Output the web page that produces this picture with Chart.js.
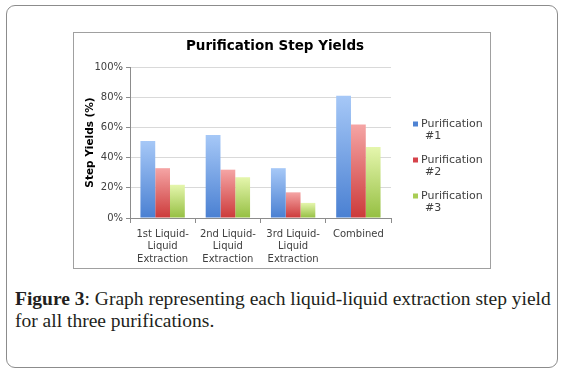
<!DOCTYPE html>
<html>
<head>
<meta charset="utf-8">
<script src="https://cdn.jsdelivr.net/npm/chart.js@4.4.1/dist/chart.umd.min.js"></script>
<style>
  html, body { margin: 0; padding: 0; background: #fff; }
  body { width: 565px; height: 376px; position: relative; overflow: hidden; }
  .frame {
    position: absolute; left: 6px; top: 5px; width: 550px; height: 361px;
    border: 1.5px solid #8c8c8c; border-radius: 9px;
  }
  .box {
    position: absolute; left: 73px; top: 32px; width: 416px; height: 235px;
    border: 1px solid #a0a0a0;
  }
  .box canvas { position: absolute; left: 0; top: 0; }
  .caption {
    position: absolute; left: 15px; top: 288px; width: 548px;
    font-family: "Liberation Serif", "DejaVu Serif", serif; font-size: 19.5px;
    line-height: 22px; color: #231f20; white-space: nowrap;
  }
  .caption b { font-weight: bold; }
</style>
</head>
<body>
<div class="frame"></div>
<div class="box"><canvas id="chartYields" width="416" height="235"></canvas></div>
<div class="caption"><b>Figure 3</b>: Graph representing each liquid-liquid extraction step yield<br>for all three purifications.</div>

<script>
// valores (%)
const categorias = [
  ['1st Liquid-', 'Liquid', 'Extraction'],
  ['2nd Liquid-', 'Liquid', 'Extraction'],
  ['3rd Liquid-', 'Liquid', 'Extraction'],
  'Combined'
];
const purificacao1 = [51, 55, 33, 81];
const purificacao2 = [33, 32, 17, 62];
const purificacao3 = [22, 27, 10, 47];
const nomesSeries = ['Purification #1', 'Purification #2', 'Purification #3'];
const ticksY = [0, 20, 40, 60, 80, 100];
const titulo = 'Purification Step Yields';

const FONTE = "'DejaVu Sans', sans-serif";

// gradiente vertical por barra (claro em cima, escuro embaixo)
function gradiente(topo, base) {
  return function(c) {
    const chart = c.chart;
    if (!chart.chartArea || !c.parsed) return base;
    const y = chart.scales.y;
    const y0 = y.getPixelForValue(0);
    const y1 = y.getPixelForValue(c.parsed.y);
    const g = chart.ctx.createLinearGradient(0, y1, 0, y0);
    g.addColorStop(0, topo);
    g.addColorStop(1, base);
    return g;
  };
}

const cores = [
  { topo: '#a6c8f7', base: '#4a80d2', legenda: '#4f83d3' },
  { topo: '#f5a5a5', base: '#cc3a3a', legenda: '#d6434a' },
  { topo: '#e5f6ad', base: '#95bf42', legenda: '#a9cd55' }
];

// título centrado na caixa toda + legenda com quebra de linha à direita
const extrasPlugin = {
  id: 'extras',
  afterDraw(chart) {
    const ctx = chart.ctx;
    ctx.save();
    ctx.font = 'bold 13.5px ' + FONTE;
    ctx.fillStyle = '#000';
    ctx.textAlign = 'center';
    ctx.textBaseline = 'middle';
    ctx.fillText(titulo, 201, 13);

    const x0 = chart.chartArea.right + 22;
    let y = 91;
    ctx.font = '11px ' + FONTE;
    ctx.textAlign = 'left';
    chart.data.datasets.forEach((ds, i) => {
      const partes = ds.label.split(' ');
      ctx.fillStyle = cores[i].legenda;
      ctx.fillRect(x0, y - 2.5, 5, 5);
      ctx.fillStyle = '#404040';
      ctx.fillText(partes[0], x0 + 8, y);
      ctx.fillText(partes.slice(1).join(' '), x0 + 12, y + 12);
      y += 36;
    });
    ctx.restore();
  }
};

const series = [purificacao1, purificacao2, purificacao3];

new Chart(document.getElementById('chartYields'), {
  type: 'bar',
  data: {
    labels: categorias,
    datasets: series.map((valores, i) => ({
      label: nomesSeries[i],
      data: valores,
      backgroundColor: gradiente(cores[i].topo, cores[i].base),
      borderWidth: 0,
      categoryPercentage: 0.68,
      barPercentage: 1
    }))
  },
  options: {
    responsive: false,
    animation: false,
    layout: { padding: { left: 6, right: 99, top: 34, bottom: 0 } },
    plugins: {
      legend: { display: false },
      tooltip: { enabled: false },
      title: { display: false }
    },
    scales: {
      x: {
        afterFit(s) { s.height = 50; },
        grid: { drawOnChartArea: false, drawTicks: true, tickLength: 5, tickColor: '#8c8c8c', offset: true },
        border: { color: '#8c8c8c' },
        ticks: {
          color: '#404040', padding: 5, maxRotation: 0, autoSkip: false,
          font: { family: FONTE, size: 10, lineHeight: 1.25 }
        }
      },
      y: {
        min: 0, max: 100,
        afterFit(s) { s.width = 50; },
        afterBuildTicks(s) { s.ticks = ticksY.map(v => ({ value: v })); },
        grid: { color: '#d9d9d9', tickColor: '#8c8c8c', tickLength: 4 },
        border: { color: '#8c8c8c' },
        ticks: {
          color: '#404040', padding: 3,
          font: { family: FONTE, size: 10 },
          callback: v => v + '%'
        },
        title: {
          display: true,
          text: 'Step Yields (%)',
          color: '#000',
          font: { family: FONTE, size: 10.5, weight: 'bold', lineHeight: 1.2 },
          padding: { top: 4, bottom: 0 }
        }
      }
    }
  },
  plugins: [extrasPlugin]
});
</script>
</body>
</html>
